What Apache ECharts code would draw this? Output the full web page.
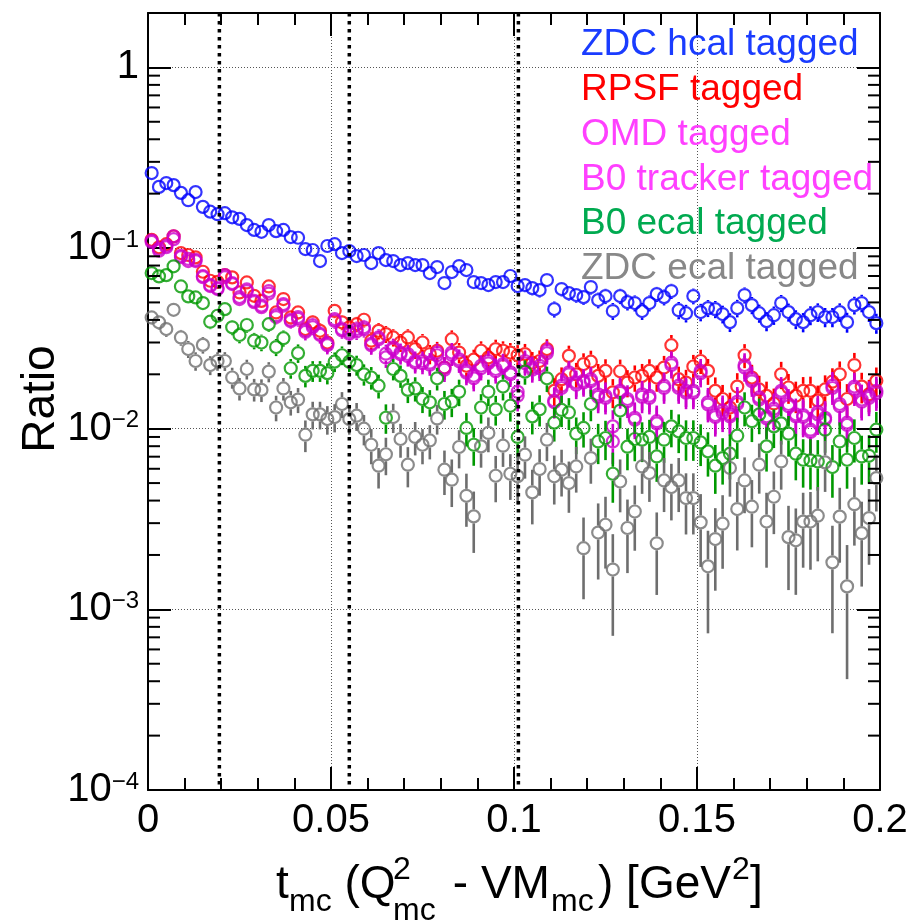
<!DOCTYPE html>
<html>
<head>
<meta charset="utf-8">
<script src="https://cdn.jsdelivr.net/npm/echarts@6/dist/echarts.min.js"></script>
<style>
html,body{margin:0;padding:0;background:#fff;}
#chart{width:912px;height:922px;}
</style>
</head>
<body>
<div id="chart"></div>
<script>
// ---- binning of t_mc ----
const binWidth = 0.002;
const nBins = 100;
const binCenters = Array.from({length: nBins}, (_, i) => +(binWidth * (i + 0.5)).toFixed(4));

// ---- axis ranges / ticks ----
const xMin = 0, xMax = 0.2, xInterval = 0.05;
const yMin = 1e-4, yMax = 2;
const cutLines = [0.0195, 0.055, 0.1012];

// estimated denominator counts per 0.02-wide segment (for statistical error bars)
const denomCounts = [3000, 2900, 2700, 2500, 2200, 2000, 1850, 1750, 1650, 1550];

// ---- ratios ----
const zdcHcal = [
  0.26, 0.218, 0.229, 0.223, 0.202, 0.184, 0.204, 0.169, 0.159, 0.154,
  0.156, 0.148, 0.145, 0.134, 0.126, 0.123, 0.134, 0.124, 0.126, 0.115,
  0.114, 0.0987, 0.0975, 0.0847, 0.1026, 0.105, 0.0938, 0.0962, 0.0903, 0.0915,
  0.0826, 0.0938, 0.0858, 0.0847, 0.0805, 0.0826, 0.0805, 0.0805, 0.0727, 0.0785,
  0.064, 0.0736, 0.0795, 0.0755, 0.0648, 0.064, 0.0624, 0.0648, 0.0648, 0.070,
  0.0616, 0.0624, 0.060, 0.0585, 0.0665, 0.0459, 0.0593, 0.0563, 0.0549, 0.0535,
  0.0608, 0.0515, 0.0542, 0.0448, 0.0542, 0.0502, 0.0496, 0.0448, 0.0496, 0.0556,
  0.0535, 0.0578, 0.0453, 0.0436, 0.0542, 0.0442, 0.0465, 0.0459, 0.0431, 0.0389,
  0.0465, 0.0549, 0.0483, 0.0436, 0.0394, 0.0425, 0.0496, 0.0442, 0.0404, 0.0389,
  0.0425, 0.0442, 0.0415, 0.0415, 0.0442, 0.0389, 0.0483, 0.0496, 0.0442, 0.0384
];
const rpsf = [
  0.111, 0.101, 0.105, 0.116, 0.0938, 0.0915, 0.0888, 0.0739, 0.0659, 0.065,
  0.0708, 0.0688, 0.0568, 0.0645, 0.0544, 0.051, 0.0613, 0.044, 0.0522, 0.0413,
  0.044, 0.0356, 0.0388, 0.0348, 0.030, 0.0449, 0.0388, 0.0364, 0.0379, 0.0401,
  0.0307, 0.0348, 0.0334, 0.032, 0.030, 0.032, 0.0276, 0.030, 0.0259, 0.027,
  0.0218, 0.0313, 0.0264, 0.0223, 0.0241, 0.027, 0.0248, 0.0276, 0.027, 0.0264,
  0.0255, 0.0259, 0.0232, 0.0237, 0.0276, 0.0162, 0.0188, 0.0253, 0.020, 0.0228,
  0.0235, 0.0196, 0.0209, 0.0159, 0.0208, 0.018, 0.0192, 0.0196, 0.0209, 0.0192,
  0.0218, 0.029, 0.0188, 0.018, 0.0221, 0.0237, 0.0209, 0.0162, 0.0146, 0.0131,
  0.0171, 0.0255, 0.0192, 0.0165, 0.0152, 0.0138, 0.020, 0.0169, 0.0152, 0.0162,
  0.0162, 0.0143, 0.0165, 0.0182, 0.020, 0.0146, 0.0225, 0.0171, 0.0155, 0.0184
];
const omd = [
  0.110, 0.099, 0.103, 0.112, 0.0905, 0.087, 0.086, 0.070, 0.0625, 0.060,
  0.069, 0.064, 0.0535, 0.059, 0.051, 0.048, 0.056, 0.0425, 0.048, 0.040,
  0.0405, 0.035, 0.0365, 0.0335, 0.0295, 0.0395, 0.035, 0.0335, 0.0345, 0.0355,
  0.0295, 0.032, 0.026, 0.0275, 0.0258, 0.0252, 0.0232, 0.023, 0.0226, 0.0255,
  0.0212, 0.0256, 0.0236, 0.0204, 0.019, 0.0216, 0.023, 0.0208, 0.0222, 0.020,
  0.016, 0.023, 0.0212, 0.0216, 0.0262, 0.014, 0.0168, 0.020, 0.0175, 0.018,
  0.0183, 0.015, 0.0148, 0.0085, 0.0158, 0.0142, 0.0112, 0.015, 0.0148, 0.0107,
  0.0168, 0.0225, 0.0168, 0.0158, 0.0158, 0.0203, 0.0136, 0.0116, 0.0122, 0.0117,
  0.0137, 0.0218, 0.0183, 0.0145, 0.0114, 0.0125, 0.0158, 0.0133, 0.0117, 0.0116,
  0.0096, 0.012, 0.0112, 0.0168, 0.0133, 0.0105, 0.0166, 0.0141, 0.0148, 0.0157
];
const b0Tracker = [
  0.108, 0.0966, 0.101, 0.116, 0.0891, 0.0847, 0.0847, 0.069, 0.0616, 0.0593,
  0.0708, 0.0632, 0.0522, 0.0578, 0.0502, 0.0471, 0.0578, 0.0415, 0.049, 0.0394,
  0.0415, 0.0343, 0.0375, 0.033, 0.029, 0.0404, 0.0356, 0.0343, 0.0356, 0.0364,
  0.029, 0.0313, 0.0248, 0.0282, 0.0264, 0.0259, 0.0237, 0.0237, 0.0232, 0.0264,
  0.0218, 0.0264, 0.0242, 0.0209, 0.0196, 0.0223, 0.0237, 0.0214, 0.0228, 0.0205,
  0.0152, 0.0237, 0.0218, 0.0223, 0.027, 0.0143, 0.0173, 0.0205, 0.018, 0.0184,
  0.0188, 0.0155, 0.0152, 0.0103, 0.0162, 0.0146, 0.0115, 0.0155, 0.0152, 0.011,
  0.0173, 0.0232, 0.0173, 0.0162, 0.0162, 0.0209, 0.014, 0.0119, 0.0126, 0.012,
  0.0141, 0.0225, 0.0188, 0.0149, 0.0117, 0.0129, 0.0162, 0.0137, 0.012, 0.0119,
  0.00987, 0.0124, 0.0115, 0.0173, 0.0137, 0.0108, 0.0171, 0.0145, 0.0152, 0.0162
];
const b0Ecal = [
  0.0727, 0.0697, 0.0708, 0.0792, 0.0613, 0.054, 0.0533, 0.0496, 0.0391, 0.0422,
  0.0459, 0.0364, 0.033, 0.0375, 0.0307, 0.030, 0.0379, 0.0283, 0.0317, 0.0216,
  0.0262, 0.0196, 0.0209, 0.0209, 0.0203, 0.0235, 0.0255, 0.0235, 0.0225, 0.020,
  0.0192, 0.0173, 0.0115, 0.0214, 0.0196, 0.0164, 0.0167, 0.0146, 0.014, 0.019,
  0.0137, 0.0141, 0.016, 0.0101, 0.00815, 0.0131, 0.016, 0.0128, 0.0171, 0.0134,
  0.009, 0.0207, 0.0117, 0.0128, 0.019, 0.0108, 0.0127, 0.0123, 0.00938, 0.0101,
  0.0137, 0.0085, 0.00888, 0.00563, 0.0126, 0.00795, 0.00877, 0.00869, 0.009, 0.00702,
  0.00869, 0.0103, 0.00966, 0.00888, 0.00888, 0.00839, 0.00749, 0.00624, 0.00688, 0.00727,
  0.00915, 0.0131, 0.011, 0.012, 0.00798, 0.0103, 0.0107, 0.00938, 0.00727, 0.00673,
  0.00667, 0.00659, 0.00987, 0.00613, 0.0085, 0.00673, 0.00888, 0.00702, 0.00708, 0.00987
];
const zdcEcal = [
  0.0413, 0.0388, 0.0356, 0.0455, 0.032, 0.0276, 0.0237, 0.0291, 0.0225, 0.0237,
  0.0237, 0.0192, 0.0167, 0.0214, 0.0165, 0.0164, 0.0207, 0.0131, 0.0167, 0.014,
  0.0145, 0.00926, 0.012, 0.012, 0.0113, 0.0116, 0.0137, 0.0113, 0.0118, 0.010,
  0.00815, 0.00624, 0.00722, 0.0116, 0.00877, 0.00632, 0.009, 0.00815, 0.00861, 0.0114,
  0.00593, 0.00522, 0.00792, 0.00425, 0.00327, 0.00798, 0.00947, 0.00549, 0.00805, 0.00563,
  0.00545, 0.00718, 0.00444, 0.00598, 0.00869, 0.00545, 0.00593, 0.005, 0.00618, 0.00218,
  0.00688, 0.00266, 0.00294, 0.00166, 0.0051, 0.00282, 0.00348, 0.00618, 0.00568, 0.00232,
  0.00517, 0.00475, 0.00517, 0.00413, 0.00413, 0.00303, 0.00173, 0.00245, 0.00298, 0.00606,
  0.00359, 0.00517, 0.0037, 0.00632, 0.00306, 0.0042, 0.00659, 0.00251, 0.00241, 0.00306,
  0.00306, 0.0033, 0.00651, 0.00182, 0.00326, 0.00134, 0.00382, 0.00264, 0.0032, 0.00533
];

const seriesDefs = [
  {name: 'ZDC hcal tagged',   values: zdcHcal,   color: '#0000ff', textColor: '#1a3cff'},
  {name: 'RPSF tagged',       values: rpsf,      color: '#ff0000', textColor: '#ff0000'},
  {name: 'OMD tagged',        values: omd,       color: '#cc00cc', textColor: '#ff40ff'},
  {name: 'B0 tracker tagged', values: b0Tracker, color: '#cc00cc', textColor: '#ff40ff'},
  {name: 'B0 ecal tagged',    values: b0Ecal,    color: '#009900', textColor: '#00aa50'},
  {name: 'ZDC ecal tagged',   values: zdcEcal,   color: '#6e6e6e', textColor: '#888888'}
];

function errOf(v, i) {
  const N = denomCounts[Math.min(denomCounts.length - 1, Math.floor(i / 10))];
  return Math.sqrt(v * (1 - v) / N);
}

// log-axis minor tick values (2..9 x 10^k)
const logMinorTicks = [];
for (let e = -4; e <= 0; e++) {
  for (let m = 2; m <= 9; m++) {
    const v = m * Math.pow(10, e);
    if (v < yMax) logMinorTicks.push(v);
  }
}

const FONT = 'Liberation Sans';
const MARKER_R = 7;

const chart = echarts.init(document.getElementById('chart'), null, {renderer: 'canvas'});

function yLabel(value) {
  const e = Math.round(Math.log10(value));
  if (Math.abs(value / Math.pow(10, e) - 1) > 1e-6) return '';
  if (e === 0) return '{b|1}';
  return '{b|10}{sup|\u2212' + Math.abs(e) + '}';
}

const series = [];
seriesDefs.forEach((d, k) => {
  series.push({
    type: 'custom',
    name: d.name + ' errors',
    coordinateSystem: 'cartesian2d',
    xAxisIndex: 0, yAxisIndex: 0,
    z: 10 + 2 * k,
    clip: true,
    silent: true,
    encode: {x: 0, y: 1},
    data: d.values.map((v, i) => [binCenters[i], v, errOf(v, i)]),
    renderItem: function (params, api) {
      const x = api.value(0), v = api.value(1), e = api.value(2);
      const c = api.coord([x, v]);
      const cs = params.coordSys;
      const top = api.coord([x, v + e])[1];
      const lo = v - e;
      const bot = lo > yMin ? api.coord([x, lo])[1] : cs.y + cs.height;
      const children = [];
      const st = {stroke: d.color, lineWidth: 2.6};
      if (top < c[1] - MARKER_R) children.push({type: 'line', shape: {x1: c[0], y1: top, x2: c[0], y2: c[1] - MARKER_R}, style: st});
      if (bot > c[1] + MARKER_R) children.push({type: 'line', shape: {x1: c[0], y1: c[1] + MARKER_R, x2: c[0], y2: bot}, style: st});
      return {type: 'group', children: children};
    }
  });
  series.push({
    type: 'scatter',
    name: d.name,
    xAxisIndex: 0, yAxisIndex: 0,
    z: 11 + 2 * k,
    silent: true,
    symbol: 'circle',
    symbolSize: 12,
    itemStyle: {color: 'rgba(0,0,0,0)', borderColor: d.color, borderWidth: 2.2},
    data: d.values.map((v, i) => [binCenters[i], v])
  });
});

// vertical dotted cut lines
series.push({
  type: 'custom',
  name: 'cuts',
  coordinateSystem: 'cartesian2d',
  xAxisIndex: 0, yAxisIndex: 0,
  z: 40,
  silent: true,
  clip: true,
  encode: {x: 0, y: 1},
  data: cutLines.map(v => [v, 1]),
  renderItem: function (params, api) {
    const cs = params.coordSys;
    const x = api.coord([api.value(0), 1])[0];
    return {type: 'line', shape: {x1: x, y1: cs.y, x2: x, y2: cs.y + cs.height},
      style: {stroke: '#000', lineWidth: 3.5, lineDash: [3.5, 4.5]}};
  }
});

// log minor ticks on both vertical frame edges
series.push({
  type: 'custom',
  name: 'minor ticks',
  coordinateSystem: 'cartesian2d',
  xAxisIndex: 0, yAxisIndex: 0,
  z: 50,
  silent: true,
  clip: false,
  encode: {x: 0, y: 1},
  data: logMinorTicks.map(v => [xMin, v]),
  renderItem: function (params, api) {
    const cs = params.coordSys;
    const y = api.coord([xMin, api.value(1)])[1];
    const st = {stroke: '#000', lineWidth: 2};
    return {type: 'group', children: [
      {type: 'line', shape: {x1: cs.x, y1: y, x2: cs.x + 12, y2: y}, style: st},
      {type: 'line', shape: {x1: cs.x + cs.width - 12, y1: y, x2: cs.x + cs.width, y2: y}, style: st}
    ]};
  }
});

const axisLineStyle = {color: '#000', width: 2};
const gridLine = {show: true, lineStyle: {color: '#555', width: 1, type: [1, 2]}};

const titleY = 885.7;
const supY = 870, subY = 902, subLowY = 911;
const tFont = 46, sFont = 32;
function t(text, x, y, size) {
  return {type: 'text', x: x, y: y, z: 100, silent: true,
    style: {text: text, fill: '#000', fontSize: size, fontFamily: FONT, align: 'left', verticalAlign: 'middle'}};
}

const graphic = [
  // legend
  ...seriesDefs.map((d, k) => ({
    type: 'text', x: 581, y: 45.2 + 44.7 * k, z: 100, silent: true,
    style: {text: d.name, fill: d.textColor, fontSize: 37, fontFamily: FONT, align: 'left', verticalAlign: 'middle'}
  })),
  // y title
  {type: 'text', x: 41, y: 399, rotation: Math.PI / 2, z: 100, silent: true,
    style: {text: 'Ratio', fill: '#000', fontSize: 46, fontFamily: FONT, align: 'center', verticalAlign: 'middle'}},
  // x title
  t('t', 276, titleY, tFont),
  t('mc', 289, subY, sFont),
  t(' (Q', 331.7, titleY, tFont),
  t('2', 393, supY, sFont),
  t('mc', 393, subLowY, sFont),
  t(' - VM', 440, titleY, tFont),
  t('mc', 551, subY, sFont),
  t(') [GeV', 598, titleY, tFont),
  t('2', 732, supY, sFont),
  t(']', 750, titleY, tFont)
];

const option = {
  animation: false,
  backgroundColor: '#fff',
  grid: {left: 148, top: 13, width: 732, height: 777, containLabel: false},
  xAxis: [
    {
      type: 'value', min: xMin, max: xMax, interval: xInterval, position: 'bottom',
      axisLine: {show: true, onZero: false, lineStyle: axisLineStyle},
      axisTick: {show: true, inside: true, length: 23, lineStyle: axisLineStyle},
      minorTick: {show: true, splitNumber: 5, length: 12, lineStyle: axisLineStyle},
      axisLabel: {show: true, margin: 11, color: '#000', fontSize: 40, fontFamily: FONT, showMinLabel: true, showMaxLabel: true},
      splitLine: gridLine
    },
    {
      type: 'value', min: xMin, max: xMax, interval: xInterval, position: 'top',
      axisLine: {show: true, onZero: false, lineStyle: axisLineStyle},
      axisTick: {show: true, inside: true, length: 23, lineStyle: axisLineStyle},
      minorTick: {show: true, splitNumber: 5, length: 12, lineStyle: axisLineStyle},
      axisLabel: {show: false},
      splitLine: {show: false}
    }
  ],
  yAxis: [
    {
      type: 'log', logBase: 10, min: yMin, max: yMax, position: 'left',
      axisLine: {show: true, onZero: false, lineStyle: axisLineStyle},
      axisTick: {show: true, inside: true, length: 23, lineStyle: axisLineStyle},
      axisLabel: {
        show: true, margin: 9, color: '#000', formatter: yLabel,
        rich: {
          b: {fontSize: 40, fontFamily: FONT, color: '#000', lineHeight: 40},
          sup: {fontSize: 24, fontFamily: FONT, color: '#000', lineHeight: 24, verticalAlign: 'top'}
        }
      },
      splitLine: gridLine
    },
    {
      type: 'log', logBase: 10, min: yMin, max: yMax, position: 'right',
      axisLine: {show: true, onZero: false, lineStyle: axisLineStyle},
      axisTick: {show: true, inside: true, length: 23, lineStyle: axisLineStyle},
      axisLabel: {show: false},
      splitLine: {show: false}
    }
  ],
  series: series,
  graphic: graphic
};

chart.setOption(option);
</script>
</body>
</html>
